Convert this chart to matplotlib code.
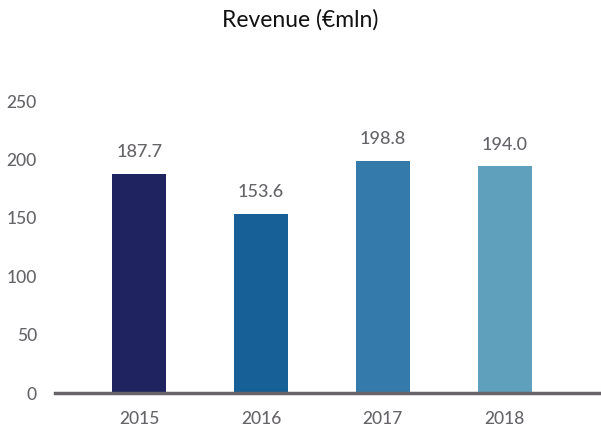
import numpy as np
import matplotlib.pyplot as plt

plt.rcParams['font.family'] = ['Lato', 'DejaVu Sans']

years = ['2015', '2016', '2017', '2018']
revenue = [187.7, 153.6, 198.8, 194.0]
colors = ['#1F2360', '#166097', '#347BAB', '#5FA0BD']
grey = '#666468'

fig = plt.figure(figsize=(6.01, 4.30), dpi=100)
ax = fig.add_axes([55 / 601, 37 / 430, 546 / 601, 292 / 430])

x = np.arange(len(years))
ax.bar(x, revenue, width=0.44, color=colors, zorder=2)

for xi, v in zip(x, revenue):
    ax.annotate(f'{v:.1f}', (xi, v), xytext=(0, 10), textcoords='offset points',
                ha='center', va='bottom', fontsize=13, fontweight='medium',
                color=grey, clip_on=False)

ax.set_xlim(-0.69, 3.79)
ax.set_ylim(0, 250)
ax.set_yticks([0, 50, 100, 150, 200, 250])
ax.set_xticks(x)
ax.set_xticklabels(years)
ax.tick_params(axis='both', length=0, labelsize=12.5, labelcolor=grey)
for lbl in ax.get_xticklabels() + ax.get_yticklabels():
    lbl.set_fontweight('medium')
ax.tick_params(axis='y', pad=13)
ax.tick_params(axis='x', pad=13)

for s in ['top', 'right', 'left']:
    ax.spines[s].set_visible(False)
ax.spines['bottom'].set_color(grey)
ax.spines['bottom'].set_linewidth(2.5)
ax.spines['bottom'].set_zorder(3)

fig.text(0.5, 1 - 20 / 430, 'Revenue (€mln)', ha='center', va='center', fontsize=16.5, color='#111111')

fig.savefig('out.png', dpi=100)
